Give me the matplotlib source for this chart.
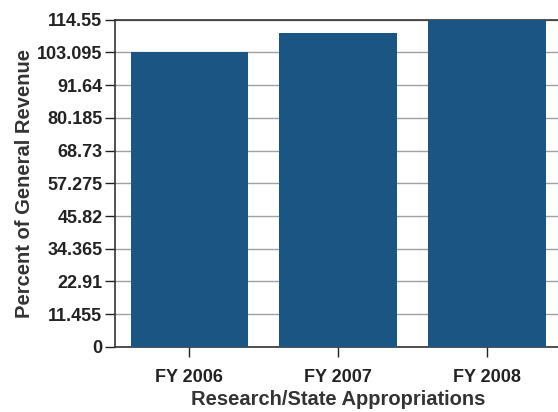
import matplotlib
matplotlib.use("Agg")
import matplotlib.pyplot as plt
import numpy as np

categories = ["FY 2006", "FY 2007", "FY 2008"]
values = [103.1, 109.9, 114.55]
y_max = 114.55
y_ticks = [round(y_max * i / 10, 3) for i in range(11)]
y_tick_labels = ["0", "11.455", "22.91", "34.365", "45.82", "57.275",
                 "68.73", "80.185", "91.64", "103.095", "114.55"]

plt.rcParams["font.family"] = ["Liberation Sans", "DejaVu Sans"]
plt.rcParams["font.weight"] = "bold"

fig = plt.figure(figsize=(5.58, 4.12), dpi=100)
# axes run past the right edge of the figure on purpose
ax = fig.add_axes([0.206, 0.158, 0.80, 0.794])

x = np.arange(len(categories))
ax.bar(x, values, width=0.79, color="#1b5584", zorder=3)

ax.set_xlim(-0.5, 2.5)
ax.set_ylim(0, y_max)
ax.set_yticks(y_ticks)
ax.set_yticklabels(y_tick_labels)
ax.set_xticks(x)
ax.set_xticklabels(categories)
ax.yaxis.grid(True, color="#a0a0a0", linewidth=1, zorder=0)

for s in ["left", "bottom", "top", "right"]:
    ax.spines[s].set_color("#333333")
    ax.spines[s].set_linewidth(1.2)

ax.tick_params(axis="both", labelsize=13, colors="#222222", length=7, width=1)
ax.tick_params(axis="y", pad=2)
ax.tick_params(axis="x", pad=9)
ax.set_xlabel("Research/State Appropriations", fontsize=14.5, fontweight="bold", color="#333333", labelpad=3)
ax.set_ylabel("Percent of General Revenue", fontsize=14.5, fontweight="bold", color="#333333", labelpad=2)

fig.savefig("out.png", dpi=100)
